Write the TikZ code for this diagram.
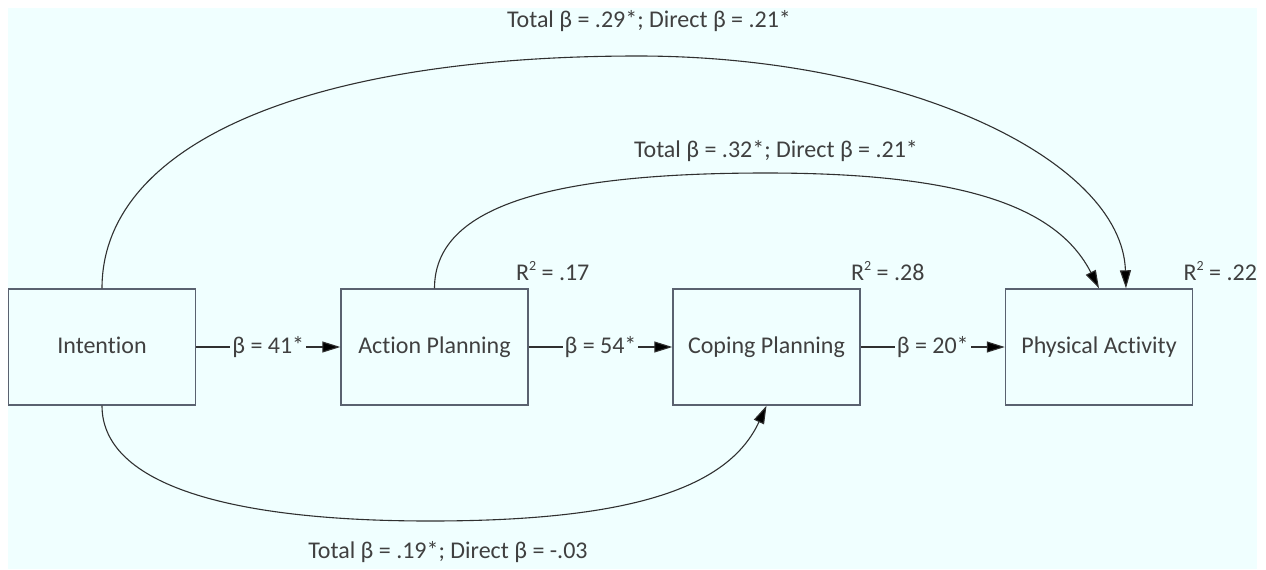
\documentclass[tikz,border=0pt]{standalone}
\usepackage{fontspec}
\setmainfont{Carlito}[Ligatures=NoCommon]
\usetikzlibrary{arrows.meta}
\definecolor{bgc}{HTML}{F0FFFF}
\definecolor{boxc}{HTML}{5A6270}
\definecolor{txtc}{HTML}{404040}
\definecolor{linec}{HTML}{303030}
\newcommand{\rsq}{R\raisebox{0.9ex}{\fontsize{7}{8}\selectfont 2}}
\begin{document}
\begin{tikzpicture}[x=0.5pt,y=-0.5pt,
  every node/.style={font=\fontsize{12}{14}\selectfont, text=txtc},
  varbox/.style={draw=boxc, line width=0.7pt, fill=bgc, minimum width=93.5pt, minimum height=58pt, inner sep=0pt, text height=8.5pt, text depth=2.5pt},
  conn/.style={draw=linec, line width=0.55pt, -{Triangle[length=9pt,width=5.5pt,fill=black]}},
  lab/.style={fill=bgc, inner sep=1pt, text height=8.5pt, text depth=2.5pt},
  rlab/.style={anchor=west, inner sep=0pt}]
\useasboundingbox (0,0) rectangle (1266,569);
\fill[white] (0,0) rectangle (1266,569);
\fill[bgc] (8,8) rectangle (1257,569);
% boxes
\node[varbox] (in) at (102,347) {Intention};
\node[varbox] (ap) at (434.5,347) {Action Planning};
\node[varbox] (cp) at (766.5,347) {Coping Planning};
\node[varbox] (pa) at (1099,347) {Physical Activity};
% R^2 labels
\node[rlab] (r1) at ([shift={(-6.5pt,8.5pt)}]ap.north east) {\rsq{} = .17};
\node[rlab] (r2) at ([shift={(-5pt,8.5pt)}]cp.north east) {\rsq{} = .28};
\node[rlab] (r3) at ([shift={(-5pt,8.5pt)}]pa.north east) {\rsq{} = .22};
% straight paths
\draw[conn] (in) -- node[lab] (l1) {β = 41*} (ap);
\draw[conn] (ap) -- node[lab] (l2) {β = 54*} (cp);
\draw[conn] (cp) -- node[lab] (l3) {β = 20*} (pa);
% curved paths
\coordinate (c1) at (638,56);
\coordinate (c2) at (766,173);
\coordinate (c3) at (430,521);
\coordinate (pa2) at ([xshift=13.5pt]pa.north);
\draw[conn] (in.north) .. controls +(0,-144) and +(-332,0) .. (c1)
  .. controls +(268,0) and +(-4,-128) .. (pa2);
\draw[conn] (ap.north) .. controls +(0,-79) and +(-225,0) .. (c2)
  .. controls +(197,0) and +(-42,-82) .. (pa.north);
\draw[conn] (in.south) .. controls +(0,75) and +(-212,0) .. (c3)
  .. controls +(202,0) and +(-38,82) .. (cp.south);
% curve labels
\node (t1) at (649,21) {Total β = .29*; Direct β = .21*};
\node (t2) at (776,151) {Total β = .32*; Direct β = .21*};
\node (t3) at (448,552) {Total β = .19*; Direct β = -.03};
\end{tikzpicture}
\end{document}
